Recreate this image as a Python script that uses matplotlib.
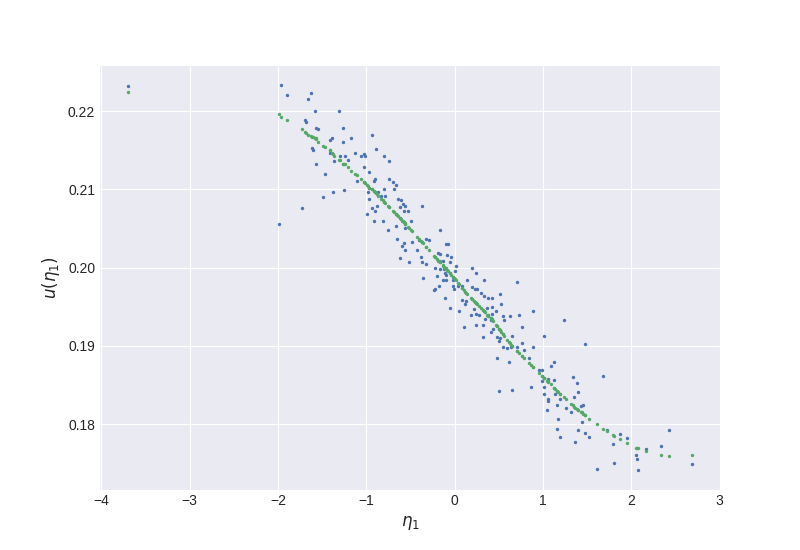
import matplotlib
matplotlib.use('Agg')
import matplotlib.pyplot as plt

# eta_1 values (one per sample)
eta = [
    -3.696,
    -1.965, -1.897, -1.626, -1.659, -1.580, -1.309, -1.693, -1.682, -1.575, -1.546,
    -1.388, -1.411, -1.618, -1.603, -1.417, -1.365, -1.569, -1.467, -1.377, -1.490,
    -1.727, -1.988, -1.303,
    -1.264, -0.936, -1.173, -1.260, -0.890, -1.128, -1.241, -1.026, -1.060, -1.015,
    -0.800, -1.207, -1.022, -0.969, -0.902, -0.913, -1.105, -0.796, -1.252, -0.981,
    -0.868, -0.834, -0.788, -0.965, -0.879, -0.932, -0.898, -0.992, -0.917, -0.811,
    -0.743, -0.739, -0.698, -0.664, -0.687, -0.641, -0.607, -0.585, -0.562, -0.619,
    -0.370, -0.574, -0.528, -0.494, -0.660, -0.558, -0.755, -0.653, -0.570, -0.483,
    -0.404, -0.596, -0.566, -0.426, -0.381, -0.615, -0.517, -0.366,
    -0.166, -0.325, -0.291, -0.098, -0.076, -0.189, -0.162, -0.087, -0.042, -0.132,
    -0.053, -0.321, -0.223, 0.015, -0.170, -0.121, 0.003, -0.110, -0.102, -0.200,
    -0.359, -0.136, -0.094, -0.019, -0.178, -0.015, -0.008, -0.219, -0.234, -0.105,
    -0.057,
    0.196, 0.241, 0.331, 0.139, 0.037, 0.083, 0.200, 0.230, 0.252, 0.298,
    0.335, 0.377, 0.422, 0.087, 0.128, 0.117, 0.365, 0.426, 0.218, 0.049,
    0.184, 0.245, 0.275, 0.381, 0.418, 0.343, 0.411, 0.237, 0.320, 0.105,
    0.430, 0.407, 0.324,
    0.705, 0.512, 0.524, 0.467, 0.886, 0.546, 0.626, 0.727, 0.558, 0.761,
    0.479, 0.516, 0.648, 0.501, 0.765, 0.709, 0.550, 0.592, 0.637, 0.890,
    0.784, 0.483, 0.840, 0.614, 0.863, 0.652, 0.505,
    1.236, 1.010, 1.123, 1.089, 0.954, 0.988, 1.338, 1.055, 1.127, 0.992,
    1.383, 1.014, 1.006, 1.135, 1.395, 1.350, 1.191, 1.051, 1.059, 1.157,
    1.259, 1.316, 1.047, 1.169, 1.161, 1.399, 1.195, 1.361,
    1.474, 1.678, 1.451, 1.429, 1.440, 1.478, 1.723, 1.519, 1.870, 1.949,
    1.791, 1.610, 1.802,
    2.424, 2.334, 2.164, 2.051, 2.062, 2.684, 2.074,
]

# observed u(eta_1)
u_obs = [
    0.2232,
    0.2233, 0.2221, 0.2223, 0.2216, 0.2200, 0.2200, 0.2189, 0.2186, 0.2178, 0.2177,
    0.2166, 0.2163, 0.2153, 0.2150, 0.2146, 0.2136, 0.2133, 0.2119, 0.2097, 0.2090,
    0.2076, 0.2056, 0.2143,
    0.2179, 0.2170, 0.2165, 0.2160, 0.2152, 0.2147, 0.2143, 0.2145, 0.2142, 0.2142,
    0.2143, 0.2137, 0.2129, 0.2122, 0.2113, 0.2111, 0.2111, 0.2100, 0.2099, 0.2096,
    0.2097, 0.2091, 0.2091, 0.2087, 0.2079, 0.2076, 0.2072, 0.2068, 0.2059, 0.2060,
    0.2136, 0.2113, 0.2110, 0.2105, 0.2101, 0.2087, 0.2086, 0.2081, 0.2079, 0.2078,
    0.2079, 0.2072, 0.2072, 0.2060, 0.2053, 0.2051, 0.2048, 0.2037, 0.2032, 0.2033,
    0.2035, 0.2028, 0.2023, 0.2022, 0.2013, 0.2012, 0.2007, 0.2007,
    0.2048, 0.2037, 0.2035, 0.2030, 0.2030, 0.2019, 0.2017, 0.2016, 0.2014, 0.2009,
    0.2007, 0.2004, 0.2000, 0.2002, 0.1998, 0.1998, 0.1996, 0.1993, 0.1990, 0.1989,
    0.1987, 0.1984, 0.1984, 0.1984, 0.1976, 0.1977, 0.1973, 0.1972, 0.1971, 0.1961,
    0.1948,
    0.2000, 0.1993, 0.1984, 0.1984, 0.1976, 0.1977, 0.1975, 0.1972, 0.1973, 0.1967,
    0.1964, 0.1961, 0.1961, 0.1959, 0.1957, 0.1954, 0.1948, 0.1949, 0.1947, 0.1944,
    0.1940, 0.1941, 0.1940, 0.1940, 0.1941, 0.1934, 0.1933, 0.1926, 0.1926, 0.1924,
    0.1921, 0.1918, 0.1911,
    0.1981, 0.1966, 0.1953, 0.1944, 0.1944, 0.1938, 0.1938, 0.1939, 0.1933, 0.1924,
    0.1911, 0.1910, 0.1912, 0.1906, 0.1903, 0.1899, 0.1898, 0.1897, 0.1898, 0.1899,
    0.1895, 0.1885, 0.1885, 0.1879, 0.1848, 0.1844, 0.1842,
    0.1933, 0.1912, 0.1879, 0.1874, 0.1869, 0.1869, 0.1860, 0.1858, 0.1856, 0.1855,
    0.1853, 0.1847, 0.1839, 0.1839, 0.1841, 0.1835, 0.1832, 0.1832, 0.1829, 0.1825,
    0.1821, 0.1816, 0.1818, 0.1806, 0.1794, 0.1792, 0.1784, 0.1777,
    0.1902, 0.1861, 0.1825, 0.1823, 0.1803, 0.1788, 0.1793, 0.1783, 0.1787, 0.1782,
    0.1774, 0.1743, 0.1750,
    0.1792, 0.1772, 0.1768, 0.1760, 0.1755, 0.1749, 0.1741,
]

# fitted u(eta_1)
u_fit = [
    0.2225,
    0.2193, 0.2189, 0.2168, 0.2170, 0.2165, 0.2137, 0.2173, 0.2172, 0.2165, 0.2161,
    0.2146, 0.2150, 0.2167, 0.2167, 0.2150, 0.2143, 0.2164, 0.2154, 0.2145, 0.2155,
    0.2177, 0.2196, 0.2137,
    0.2133, 0.2100, 0.2124, 0.2133, 0.2095, 0.2120, 0.2132, 0.2109, 0.2113, 0.2108,
    0.2084, 0.2128, 0.2109, 0.2102, 0.2096, 0.2098, 0.2118, 0.2084, 0.2132, 0.2104,
    0.2092, 0.2088, 0.2082, 0.2102, 0.2094, 0.2100, 0.2096, 0.2105, 0.2098, 0.2086,
    0.2077, 0.2077, 0.2072, 0.2068, 0.2071, 0.2066, 0.2062, 0.2059, 0.2056, 0.2063,
    0.2033, 0.2058, 0.2052, 0.2048, 0.2068, 0.2056, 0.2079, 0.2067, 0.2058, 0.2047,
    0.2036, 0.2060, 0.2057, 0.2039, 0.2034, 0.2063, 0.2050, 0.2033,
    0.2007, 0.2026, 0.2022, 0.1998, 0.1995, 0.2009, 0.2007, 0.1997, 0.1991, 0.2002,
    0.1993, 0.2026, 0.2014, 0.1984, 0.2008, 0.2001, 0.1986, 0.2000, 0.1999, 0.2011,
    0.2031, 0.2003, 0.1998, 0.1988, 0.2008, 0.1988, 0.1987, 0.2014, 0.2015, 0.1999,
    0.1993,
    0.1960, 0.1955, 0.1944, 0.1966, 0.1980, 0.1974, 0.1960, 0.1956, 0.1953, 0.1948,
    0.1944, 0.1938, 0.1933, 0.1974, 0.1968, 0.1969, 0.1939, 0.1933, 0.1957, 0.1979,
    0.1961, 0.1955, 0.1951, 0.1938, 0.1934, 0.1943, 0.1935, 0.1955, 0.1946, 0.1971,
    0.1932, 0.1935, 0.1946,
    0.1893, 0.1920, 0.1918, 0.1927, 0.1873, 0.1915, 0.1903, 0.1891, 0.1913, 0.1887,
    0.1925, 0.1920, 0.1900, 0.1921, 0.1887, 0.1893, 0.1915, 0.1908, 0.1901, 0.1873,
    0.1884, 0.1925, 0.1878, 0.1905, 0.1875, 0.1900, 0.1921,
    0.1834, 0.1859, 0.1846, 0.1851, 0.1865, 0.1861, 0.1824, 0.1855, 0.1846, 0.1861,
    0.1819, 0.1859, 0.1859, 0.1845, 0.1818, 0.1822, 0.1838, 0.1855, 0.1854, 0.1842,
    0.1832, 0.1826, 0.1855, 0.1841, 0.1842, 0.1818, 0.1838, 0.1821,
    0.1812, 0.1794, 0.1813, 0.1816, 0.1815, 0.1812, 0.1791, 0.1807, 0.1781, 0.1776,
    0.1786, 0.1800, 0.1785,
    0.1759, 0.1760, 0.1766, 0.1770, 0.1769, 0.1760, 0.1769,
]

plt.style.use('seaborn-v0_8-darkgrid')
plt.rcParams['font.family'] = ['Liberation Sans', 'DejaVu Sans']

fig, ax = plt.subplots(figsize=(8, 5.5), dpi=100)

# observed data and model prediction
ax.scatter(eta, u_obs, s=6, color='#4C72B0', linewidths=0)
ax.scatter(eta, u_fit, s=6, color='#55A868', linewidths=0)

ax.set_xlabel(r'$\eta_1$', fontsize=12)
ax.set_ylabel(r'$u(\eta_1)$', fontsize=12)
ax.tick_params(labelsize=10)

fig.savefig('out.png', dpi=100)
